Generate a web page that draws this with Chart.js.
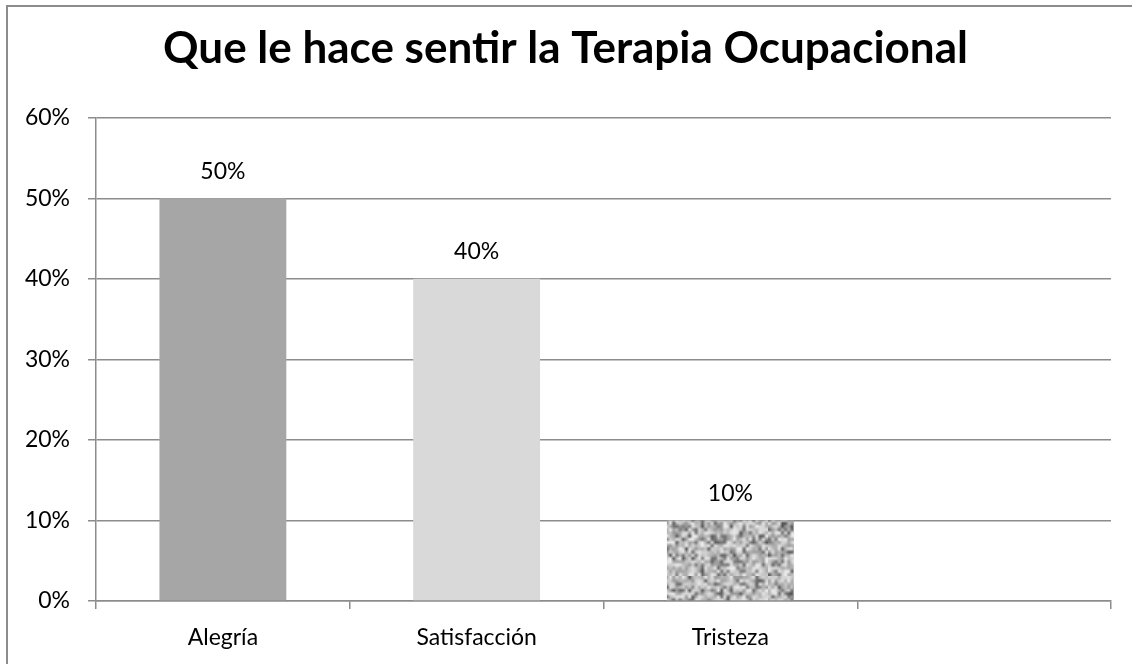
<!DOCTYPE html>
<html>
<head>
<meta charset="utf-8">
<script src="https://cdn.jsdelivr.net/npm/chart.js@4.4.1/dist/chart.umd.min.js"></script>
<style>
  html, body { margin: 0; padding: 0; background: #fff; overflow: hidden; }
  #wrap { position: relative; width: 1132px; height: 664px; }
  #frame { position: absolute; left: 6px; top: 5px; width: 1200px; height: 700px;
           border-left: 2px solid #8c8c8c; border-top: 2px solid #8c8c8c; }
  canvas { position: absolute; left: 0; top: 0; }
</style>
</head>
<body>
<div id="wrap">
  <div id="frame"></div>
  <canvas id="Chart1" width="1132" height="664"></canvas>
</div>
<script>
// datos del gráfico
const categorias = ['Alegría', 'Satisfacción', 'Tristeza', ''];
const valores = [50, 40, 10, null];
const etiquetas = ['50%', '40%', '10%', ''];
const tituloGrafico = 'Que le hace sentir la Terapia Ocupacional';

const fuente = "Lato, 'Open Sans', sans-serif";

// textura granulada para la barra de Tristeza (semilla fija)
function texturaGranito() {
    const c = document.createElement('canvas');
    c.width = 128; c.height = 96;
    const g = c.getContext('2d');
    let s = 12345;
    function rnd() { s = (s * 1103515245 + 12345) & 0x7fffffff; return s / 0x7fffffff; }
    const base = document.createElement('canvas');
    base.width = 40; base.height = 30;
    const b = base.getContext('2d');
    const img = b.createImageData(40, 30);
    for (let i = 0; i < 40 * 30; i++) {
        let v = 150 + Math.floor(rnd() * 90);
        if (rnd() < 0.18) v = 80 + Math.floor(rnd() * 50); // manchas oscuras
        img.data[i * 4] = v; img.data[i * 4 + 1] = v; img.data[i * 4 + 2] = v; img.data[i * 4 + 3] = 255;
    }
    b.putImageData(img, 0, 0);
    g.imageSmoothingEnabled = true;
    g.drawImage(base, 0, 0, 128, 96);
    return g.createPattern(c, 'repeat');
}

// etiquetas de valor encima de las barras
const etiquetasPlugin = {
    id: 'etiquetasBarras',
    afterDatasetsDraw(chart) {
        const ctx = chart.ctx;
        const meta = chart.getDatasetMeta(0);
        ctx.save();
        ctx.font = '23px ' + fuente;
        ctx.fillStyle = '#000';
        ctx.textAlign = 'center';
        ctx.textBaseline = 'middle';
        meta.data.forEach((bar, i) => {
            if (valores[i] == null) return;
            ctx.fillText(etiquetas[i], bar.x, bar.y - 27);
        });
        ctx.restore();
    }
};

const ctx = document.getElementById('Chart1');

new Chart(ctx, {
    type: 'bar',
    data: {
        labels: categorias,
        datasets: [{
            data: valores,
            backgroundColor: ['#a6a6a6', '#d9d9d9', texturaGranito(), '#ffffff'],
            borderWidth: 0,
            categoryPercentage: 1.0,
            barPercentage: 0.5
        }]
    },
    options: {
        responsive: false,
        animation: false,
        // padding izquierdo para centrar el título como en el original
        layout: { padding: { left: 20, right: 21, top: 0, bottom: 0 } },
        scales: {
            y: {
                min: 0,
                max: 60,
                ticks: {
                    stepSize: 10,
                    padding: 18,
                    color: '#000',
                    font: { family: fuente, size: 23 },
                    callback: v => v + '%'
                },
                grid: { color: '#8c8c8c', lineWidth: 1.5, tickLength: 8 },
                border: { color: '#8c8c8c', width: 1.5 },
                afterFit: s => { s.width = 76; }
            },
            x: {
                ticks: {
                    padding: 15,
                    color: '#000',
                    font: { family: fuente, size: 23 }
                },
                grid: { drawOnChartArea: false, color: '#8c8c8c', lineWidth: 1.5, tickLength: 8 },
                border: { color: '#8c8c8c', width: 1.5 },
                afterFit: s => { s.height = 63; }
            }
        },
        plugins: {
            legend: { display: false },
            tooltip: { enabled: false },
            title: {
                display: true,
                text: tituloGrafico,
                color: '#000',
                font: { family: fuente, size: 44, weight: 'bold' },
                padding: { top: 22, bottom: 43 }
            }
        }
    },
    plugins: [etiquetasPlugin]
});
</script>
</body>
</html>
